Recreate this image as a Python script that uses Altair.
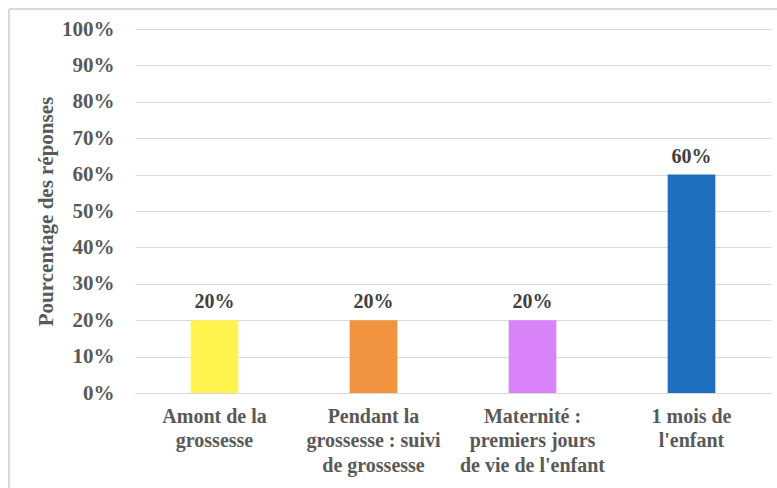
import altair as alt
import pandas as pd

# Survey: at which moment parents would like to receive information
categories = [
    "Amont de la|grossesse",
    "Pendant la|grossesse : suivi|de  grossesse",
    "Maternité :|premiers jours|de vie de l'enfant",
    "1 mois de|l'enfant",
]
values = [20, 20, 20, 60]
colors = ["#FFF44F", "#F2943F", "#D883F7", "#1F6FC0"]
y_ticks = [0, 10, 20, 30, 40, 50, 60, 70, 80, 90, 100]

df = pd.DataFrame({"cat": categories, "val": values, "col": colors})
df["label"] = df["val"].astype(str) + "%"

FONT = "'Liberation Serif', 'Times New Roman', 'DejaVu Serif', serif"
GREY = "#595959"
SIZE = 20

x_enc = alt.X(
    "cat:N",
    sort=categories,
    scale=alt.Scale(paddingInner=0.7, paddingOuter=0.35),
    axis=alt.Axis(
        title=None,
        labelExpr="split(datum.label, '|')",
        labelAngle=0,
        labelFont=FONT,
        labelFontSize=SIZE,
        labelFontWeight="bold",
        labelColor=GREY,
        labelLineHeight=24.5,
        labelPadding=13,
        ticks=False,
        domainColor="#d9d9d9",
        grid=False,
    ),
)
y_enc = alt.Y(
    "val:Q",
    scale=alt.Scale(domain=[0, 100], nice=False),
    axis=alt.Axis(
        title="Pourcentage des réponses",
        titleFont=FONT,
        titleFontSize=21,
        titleFontWeight="bold",
        titleColor=GREY,
        titlePadding=5,
        values=y_ticks,
        labelOverlap=False,
        labelExpr="datum.value + '%'",
        labelFont=FONT,
        labelFontSize=21,
        labelFontWeight="bold",
        labelColor=GREY,
        labelPadding=21,
        ticks=False,
        domain=False,
        gridColor="#d9d9d9",
    ),
)

bars = alt.Chart(df).mark_bar().encode(
    x=x_enc,
    y=y_enc,
    color=alt.Color("col:N", scale=None),
)

labels = alt.Chart(df).mark_text(
    font=FONT, fontSize=SIZE, fontWeight="bold", color="#404040", dy=-12, baseline="alphabetic"
).encode(
    x=x_enc,
    y=y_enc,
    text=alt.Text("label:N"),
)

# outer frame around the chart
frame_left = alt.Chart(df).mark_rule(color="#d9d9d9", strokeWidth=1.5).encode(
    x=alt.value(-126), y=alt.value(-20), y2=alt.value(470)
)
frame_top = alt.Chart(df).mark_rule(color="#d9d9d9", strokeWidth=1.5).encode(
    x=alt.value(-126), x2=alt.value(650), y=alt.value(-20)
)

chart = (
    alt.layer(bars, labels, frame_left, frame_top)
    .properties(
        width=636,
        height=364,
        background="white",
        autosize=alt.AutoSizeParams(type="none"),
        padding={"left": 135, "top": 29, "right": 6, "bottom": 95},
    )
    .configure_view(stroke=None)
)

chart.save("out.html", embed_options={"renderer": "svg", "actions": False})
